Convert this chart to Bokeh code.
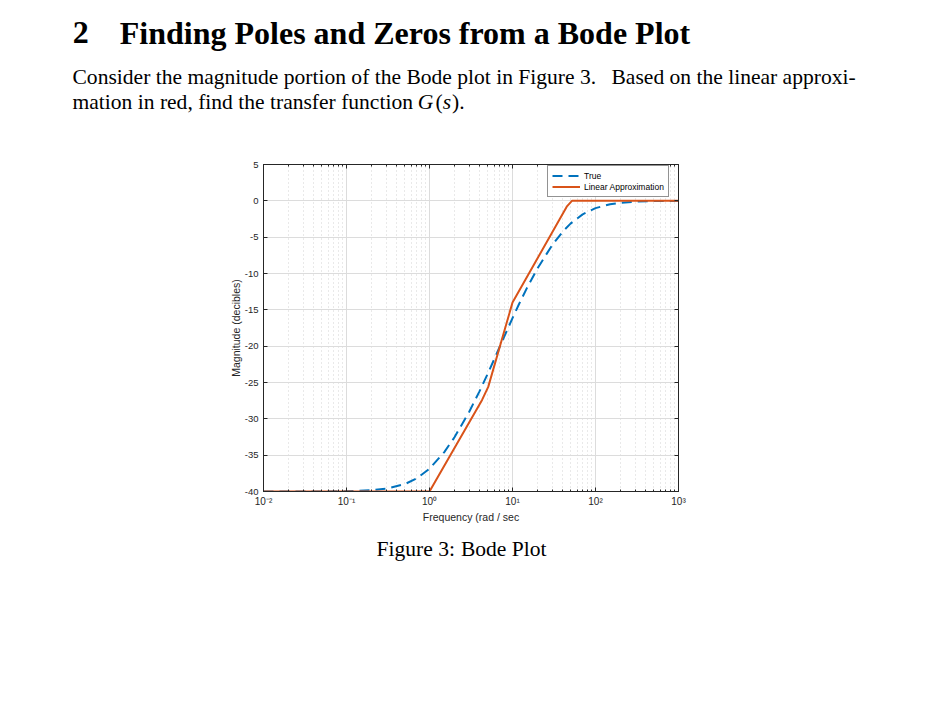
from bokeh.plotting import figure
from bokeh.layouts import column, row
from bokeh.models import (Range1d, FixedTicker, LogAxis, LinearAxis, CustomJSTickFormatter)
from bokeh.core.properties import value
from bokeh.embed import file_html
from bokeh.resources import INLINE

# ---------------- data ----------------
true_freq = [0.01, 0.02, 0.05, 0.1, 0.2, 0.3, 0.5, 0.7, 1, 1.5, 2, 3, 4, 5, 6, 7, 8,
             10, 12, 15, 20, 30, 40, 50, 70, 100, 150, 200, 300, 500, 1000]
true_db = [-40.0, -40.0, -40.0, -39.96, -39.82, -39.61, -39.0, -38.21, -36.86, -34.61,
           -32.54, -29.05, -26.22, -23.85, -21.84, -20.11, -18.61, -16.15, -14.2,
           -11.95, -9.3, -6.11, -4.28, -3.14, -1.86, -1.0, -0.47, -0.27, -0.12, -0.04, -0.01]

approx_freq = [0.01, 1, 4.3, 5.1, 10, 45, 52, 1000]
approx_db = [-40, -40, -27.4, -25.6, -14, -0.8, 0, 0]

x_ticks = [0.01, 0.1, 1, 10, 100, 1000]
x_tick_labels = ["10\u207b\u00b2", "10\u207b\u00b9", "10\u2070", "10\u00b9", "10\u00b2", "10\u00b3"]
x_minor_ticks = [m * d for d in [0.01, 0.1, 1, 10, 100] for m in range(2, 10)]
y_ticks = [-40, -35, -30, -25, -20, -15, -10, -5, 0, 5]
y_tick_labels = ["-40", "-35", "-30", "-25", "-20", "-15", "-10", "-5", "0", "5"]

title_num = "2"
title_text = "Finding Poles and Zeros from a Bode Plot"
para_line1a = "Consider the magnitude portion of the Bode plot in Figure 3."
para_line1b = "Based on the linear approxi-"
para_line2 = "mation in red, find the transfer function"
caption_a = "Figure 3:"
caption_b = "Bode Plot"
x_label = "Frequency (rad / sec"
y_label = "Magnitude (decibles)"

# ---------------- styling ----------------
AX = "#262626"
SANS = "Liberation Sans"
SERIF = "Liberation Serif"
BLUE = "#0072BD"
ORANGE = "#D95319"
PAGE_W = 935
HEAD_H = 150
PLOT_BOTTOM = 530
CAP_H = 70
BODY = "21.55px"


def text_figure(height):
    f = figure(width=PAGE_W, height=height, x_range=Range1d(0, PAGE_W),
               y_range=Range1d(height, 0), min_border=0,
               x_axis_location=None, y_axis_location=None,
               output_backend="svg", toolbar_location=None)
    f.grid.visible = False
    f.outline_line_color = None
    f.background_fill_color = "white"
    f.border_fill_color = "white"
    return f


def put_text(f, text, x, y, size, style="normal", font=SERIF, align="left"):
    f.text(x=[x], y=[y], text=[text], text_font=value(font), text_font_size=size,
           text_font_style=style, text_align=align, text_baseline="alphabetic",
           text_color="black")


# ---------------- header ----------------
head = text_figure(HEAD_H)
put_text(head, title_num, 72.3, 32, "32px", "bold")
put_text(head, title_text, 119.3, 32, "32px", "bold")
put_text(head, para_line1a, 72, 76, BODY)
put_text(head, para_line1b, 611, 76, BODY)
put_text(head, para_line2, 72, 101, BODY)
put_text(head, "G", 417.3, 101, BODY, "italic")
put_text(head, "(", 435, 101, BODY)
put_text(head, "s", 442.3, 101, BODY, "italic")
put_text(head, ").", 451.5, 101, BODY)

# ---------------- plot ----------------
p = figure(x_axis_type="log", x_range=Range1d(0.01, 1000), y_range=Range1d(-40, 5),
           frame_width=415, frame_height=327,
           min_border_left=263, min_border_right=PAGE_W - 678,
           min_border_top=164 - HEAD_H, min_border_bottom=PLOT_BOTTOM - 491,
           output_backend="svg", toolbar_location=None)
p.background_fill_color = "white"
p.border_fill_color = "white"
p.outline_line_color = AX
p.outline_line_width = 1

xtk = FixedTicker(ticks=x_ticks, minor_ticks=x_minor_ticks)
ytk = FixedTicker(ticks=y_ticks, minor_ticks=[])

xfmt = CustomJSTickFormatter(args=dict(tvals=x_ticks, tlabs=x_tick_labels), code="""
const i = tvals.findIndex(t => Math.abs(Math.log10(t) - Math.log10(tick)) < 1e-6);
return i >= 0 ? tlabs[i] : '';
""")
yfmt = CustomJSTickFormatter(args=dict(tvals=y_ticks, tlabs=y_tick_labels), code="""
const i = tvals.findIndex(t => Math.abs(t - tick) < 1e-6);
return i >= 0 ? tlabs[i] : '';
""")
blank = CustomJSTickFormatter(code="return '';")


def style_axis(ax, minor=True):
    ax.axis_line_color = AX
    ax.axis_line_width = 1
    ax.major_tick_line_color = AX
    ax.major_tick_in = 4
    ax.major_tick_out = 0
    if minor:
        ax.minor_tick_line_color = AX
        ax.minor_tick_in = 2
        ax.minor_tick_out = 0
    else:
        ax.minor_tick_line_color = None
    ax.major_label_text_font = SANS
    ax.major_label_text_font_size = "9.5px"
    ax.major_label_text_color = AX
    ax.axis_label_text_font = SANS
    ax.axis_label_text_font_size = "10.5px"
    ax.axis_label_text_font_style = "normal"
    ax.axis_label_text_color = AX


xa = p.xaxis[0]
xa.ticker = xtk
xa.formatter = xfmt
style_axis(xa)
xa.major_label_text_font_size = "10px"
xa.major_label_standoff = 4
xa.axis_label = x_label
xa.axis_label_standoff = 1

ya = p.yaxis[0]
ya.ticker = ytk
ya.formatter = yfmt
style_axis(ya, minor=False)
ya.major_label_standoff = 5
ya.axis_label = y_label
ya.axis_label_standoff = 0

top = LogAxis(ticker=xtk, formatter=blank, major_label_standoff=0)
style_axis(top)
top.major_label_text_font_size = "1px"
p.add_layout(top, "above")
right = LinearAxis(ticker=ytk, formatter=blank, major_label_standoff=0)
style_axis(right, minor=False)
right.major_label_text_font_size = "1px"
p.add_layout(right, "right")

p.xgrid.ticker = xtk
p.xgrid.grid_line_color = "#dcdcdc"
p.xgrid.grid_line_width = 1
p.xgrid.minor_grid_line_color = "#d2d2d2"
p.xgrid.minor_grid_line_dash = "1 3"
p.ygrid.ticker = ytk
p.ygrid.grid_line_color = "#dcdcdc"
p.ygrid.grid_line_width = 1

p.line(true_freq, true_db, line_color=BLUE, line_width=2, line_dash="10 6",
       legend_label="True")
p.line(approx_freq, approx_db, line_color=ORANGE, line_width=2,
       legend_label="Linear Approximation")

lg = p.legend[0]
lg.location = (284, 294)
lg.label_text_font = SANS
lg.label_text_font_size = "8.5px"
lg.label_text_color = "black"
lg.label_height = 11
lg.glyph_height = 11
lg.glyph_width = 28
lg.label_standoff = 4
lg.spacing = 0
lg.padding = 4
lg.margin = 0
lg.border_line_color = AX
lg.border_line_width = 1
lg.background_fill_color = "white"
lg.background_fill_alpha = 1

# ---------------- caption ----------------
cap = text_figure(CAP_H)
put_text(cap, caption_a, 376, 18, BODY)
put_text(cap, caption_b, 546, 18, BODY, align="right")

layout = column(row(head), row(p), row(cap), spacing=0)
open("out.html", "w").write(file_html(layout, INLINE))
